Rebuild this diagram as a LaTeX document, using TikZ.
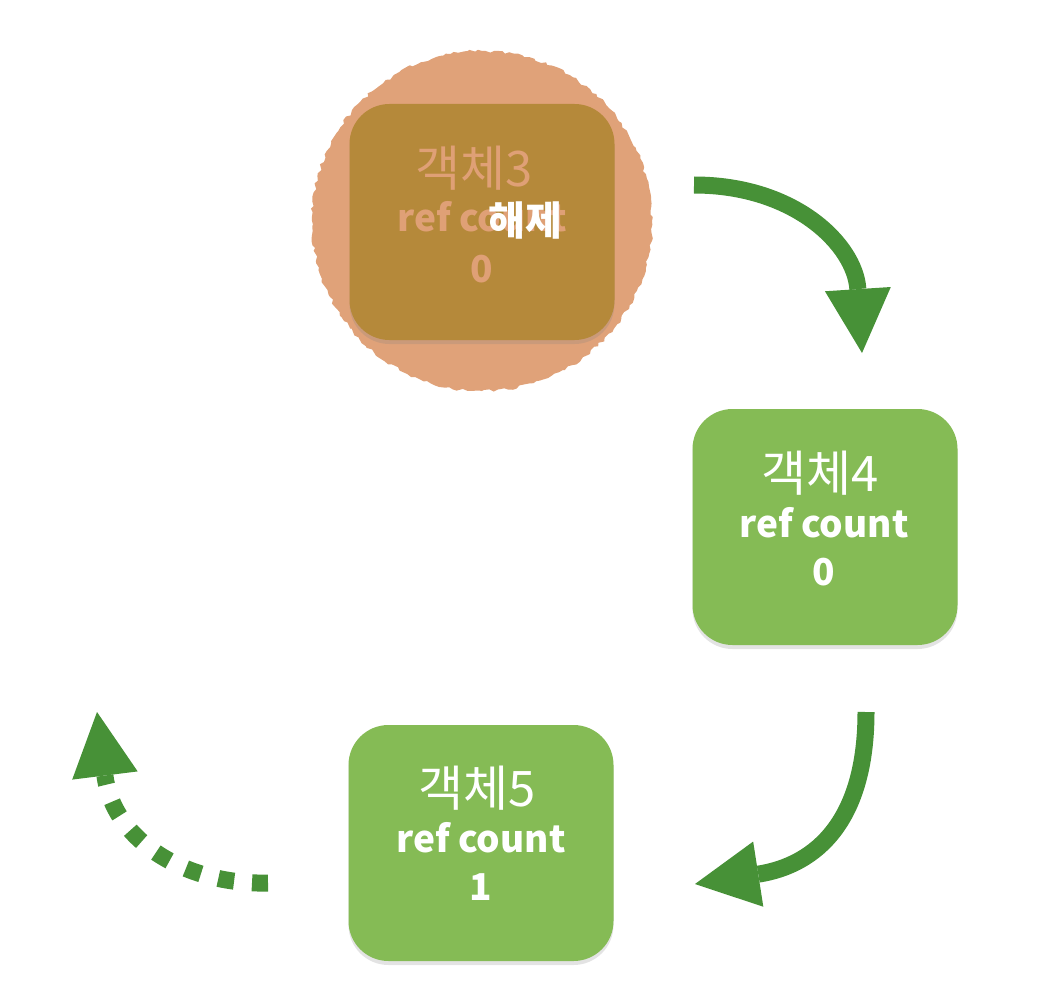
\documentclass[tikz,border=0pt]{standalone}
\usepackage{fontspec}
\newfontfamily\kr{Noto Sans CJK KR}
\usetikzlibrary{arrows.meta,decorations.pathmorphing,shadows}
\definecolor{boxgreen}{HTML}{85BB55}
\definecolor{arrowgreen}{HTML}{479137}
\definecolor{burst}{HTML}{E0A279}
\definecolor{boxthreefill}{HTML}{B5893A}
\definecolor{boxthreetext}{HTML}{DFA076}
\tikzset{
  objbox/.style={rounded corners=40pt, minimum width=265pt, minimum height=236pt, inner sep=0pt,
    drop shadow={shadow xshift=0pt, shadow yshift=-4pt, opacity=0.22}},
  titletext/.style={font=\kr\fontsize{49}{54}\selectfont, anchor=base, inner sep=0pt},
  counttext/.style={font=\kr\bfseries\fontsize{37}{42}\selectfont, anchor=base, inner sep=0pt},
  flow/.style={draw=arrowgreen, line width=17pt, -{Triangle[length=64pt,width=66pt,line width=0pt]}},
}
\begin{document}
\begin{tikzpicture}[x=1pt,y=-1pt]
\useasboundingbox (0,0) rectangle (1056,992);
% released object burst
\pgfmathsetseed{7}
\fill[burst, decorate, decoration={random steps, segment length=4pt, amplitude=1.6pt}] (482,221) circle (170);
% boxes
\node[objbox, fill=boxthreefill] (b3) at (482,222) {};
\node[objbox, fill=boxgreen] (b4) at (825,527) {};
\node[objbox, fill=boxgreen] (b5) at (481,843) {};
% texts box 3
\node[titletext, text=boxthreetext] (t3) at (474,187) {객체3};
\node[counttext, text=boxthreetext] (r3) at (482,232) {ref count};
\node[counttext, text=boxthreetext] (n3) at (482,282) {0};
\node[font=\kr\bfseries\fontsize{40}{44}\selectfont, text=white, inner sep=0pt] (free) at (525,221) {해제};
% texts box 4
\node[titletext, text=white] (t4) at (820,491) {객체4};
\node[counttext, text=white] (r4) at (824,537) {ref count};
\node[counttext, text=white] (n4) at (824,585) {0};
% texts box 5
\node[titletext, text=white] (t5) at (477,806) {객체5};
\node[counttext, text=white] (r5) at (481,852) {ref count};
\node[counttext, text=white] (n5) at (481,900) {1};
% arrows
\coordinate (a1s) at (694,185);
\coordinate (a1e) at (862,353);
\draw[flow] (a1s) .. controls (795,185) and (855,245) .. (a1e);
\coordinate (a2s) at (866,712);
\coordinate (a2e) at (695,884);
\draw[flow] (a2s) .. controls (866,820) and (817,865) .. (a2e);
\coordinate (a3s) at (268,883);
\coordinate (a3e) at (97,712);
\draw[flow, dash pattern=on 16pt off 18pt] (a3s) .. controls (185,885) and (113,840) .. (a3e);
\end{tikzpicture}
\end{document}
